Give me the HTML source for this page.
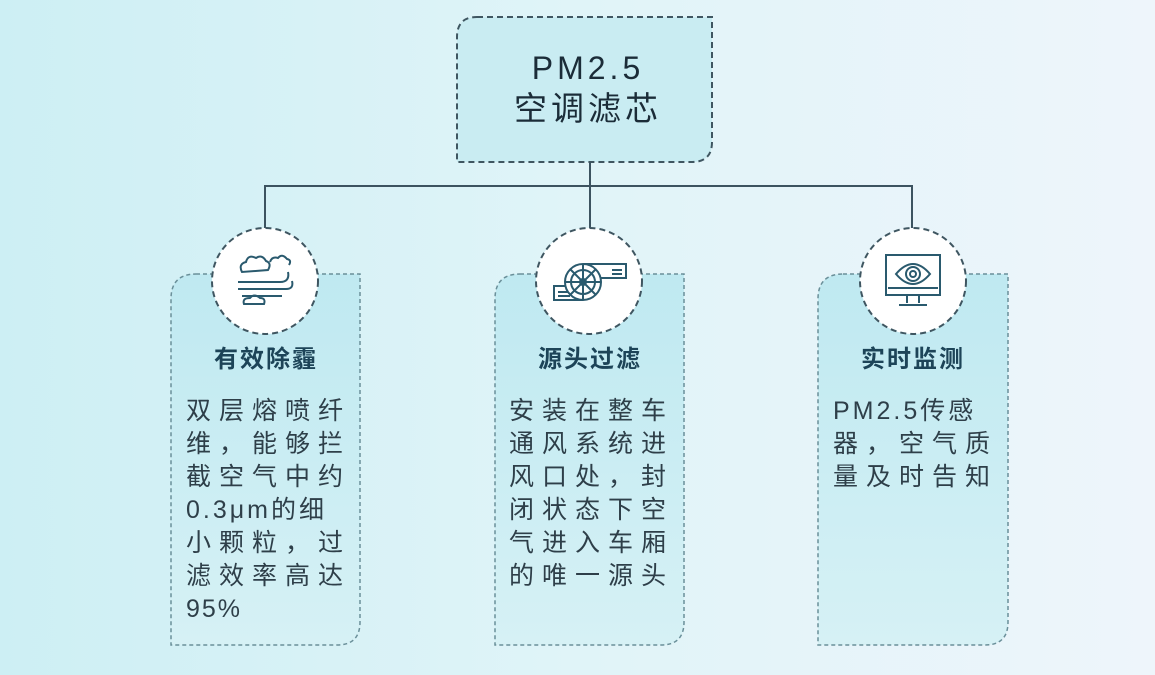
<!DOCTYPE html>
<html><head><meta charset="utf-8"><style>
html,body{margin:0;padding:0;width:1155px;height:675px;overflow:hidden}
body{background:linear-gradient(90deg,#cdeff4 0%,#e0f4f8 50%,#eef5fb 100%)}
svg{position:absolute;left:0;top:0}
text{font-family:"Liberation Sans","Noto Sans CJK SC",sans-serif}
</style></head><body>
<svg width="1155" height="675" viewBox="0 0 1155 675">
<defs>
<linearGradient id="cg" x1="0" y1="0" x2="0" y2="1">
<stop offset="0" stop-color="#bfe9f1"/><stop offset="1" stop-color="#d6f1f5"/></linearGradient>
</defs>
<path d="M477,17 H712 V142 Q712,162 692,162 H457 V37 Q457,17 477,17 Z" fill="#c9ecf2" stroke="#3f5661" stroke-width="2" stroke-dasharray="6,4"/>
<text x="588" y="79" text-anchor="middle" font-size="32" fill="#1b2c38" letter-spacing="4">PM2.5</text>
<text x="588" y="120" text-anchor="middle" font-size="33" fill="#1b2c38" letter-spacing="4">空调滤芯</text>
<g stroke="#3c5360" stroke-width="2" fill="none">
<line x1="590" y1="162" x2="590" y2="228"/>
<line x1="265" y1="186" x2="912" y2="186"/>
<line x1="265" y1="185" x2="265" y2="228"/>
<line x1="912" y1="185" x2="912" y2="228"/>
</g>
<g fill="url(#cg)" stroke="#6a8f99" stroke-width="1.5" stroke-dasharray="4,3">
<path d="M196,274 H360 V622 Q360,645 337,645 H171 V299 Q171,274 196,274 Z"/>
<path d="M520,274 H684 V622 Q684,645 661,645 H495 V299 Q495,274 520,274 Z"/>
<path d="M843,274 H1008 V622 Q1008,645 985,645 H818 V299 Q818,274 843,274 Z"/>
</g>
<g fill="#ffffff" stroke="#3f5661" stroke-width="2" stroke-dasharray="6,4">
<circle cx="265" cy="281" r="53"/>
<circle cx="589" cy="281" r="53"/>
<circle cx="913" cy="281" r="53"/>
</g>
<g fill="none" stroke="#2a5a6e" stroke-width="2">
<path d="M242,272 q-4,-8 4,-10 q2,-8 10,-4 q6,-4 10,3 q6,2 2,9 z"/>
<path d="M270,262 q2,-6 8,-4 q4,-5 9,1 q5,1 2,6"/>
<path d="M238,282 H280 q10,0 8,-10"/>
<path d="M238,289 H286 q8,0 6,-8"/>
<path d="M242,296 H282"/>
<path d="M244,304 q-2,-6 6,-6 q4,-5 10,0 q6,0 4,6 z"/>
</g>
<g fill="none" stroke="#2a5a6e" stroke-width="2">
<circle cx="583" cy="282" r="18"/><circle cx="583" cy="282" r="12"/><circle cx="583" cy="282" r="3"/>
<path d="M583,264 V300 M565,282 H601 M570,269 L596,295 M596,269 L570,295"/>
<path d="M583,264 H626 V278 H601"/><path d="M612,270 H622 M612,274 H622"/>
<path d="M583,300 H554 V286 H566"/><path d="M558,292 H568 M558,296 H570"/>
</g>
<g fill="none" stroke="#2a5a6e" stroke-width="2">
<rect x="886" y="255" width="54" height="40"/>
<path d="M888,288 H938"/>
<path d="M896,274 q17,-20 34,0 q-17,20 -34,0 z"/>
<circle cx="913" cy="274" r="7"/><circle cx="913" cy="274" r="3"/>
<path d="M907,295 V303 M919,295 V303 M899,305 H927"/>
</g>
<g font-size="24" font-weight="bold" fill="#1d4458" text-anchor="middle" letter-spacing="2">
<text x="266" y="367">有效除霾</text>
<text x="590" y="367">源头过滤</text>
<text x="913" y="367">实时监测</text>
</g>
<g font-size="25" fill="#2e3f49" letter-spacing="8">
<text x="186" y="419">双层熔喷纤</text>
<text x="186" y="452">维，能够拦</text>
<text x="186" y="485">截空气中约</text>
<text x="186" y="518" letter-spacing="3">0.3μm的细</text>
<text x="186" y="551">小颗粒，过</text>
<text x="186" y="584">滤效率高达</text>
<text x="186" y="617" letter-spacing="2">95%</text>
<text x="509" y="419">安装在整车</text>
<text x="509" y="452">通风系统进</text>
<text x="509" y="485">风口处，封</text>
<text x="509" y="518">闭状态下空</text>
<text x="509" y="551">气进入车厢</text>
<text x="509" y="584">的唯一源头</text>
<text x="833" y="419" letter-spacing="3">PM2.5传感</text>
<text x="833" y="452">器，空气质</text>
<text x="833" y="485">量及时告知</text>
</g>
</svg>
</body></html>
